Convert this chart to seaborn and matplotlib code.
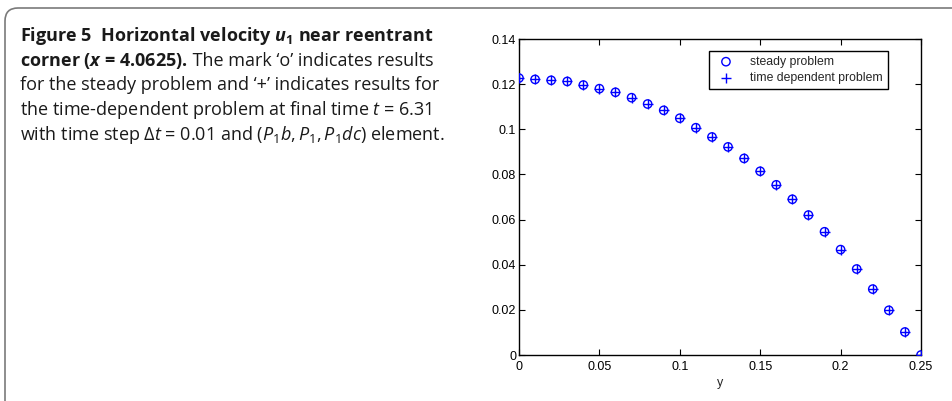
import matplotlib
matplotlib.use("Agg")
import matplotlib.pyplot as plt
from matplotlib.patches import FancyBboxPatch
from matplotlib.transforms import IdentityTransform
from matplotlib.ticker import FuncFormatter
import pandas as pd
import seaborn as sns

# values
y_pos = [0.00, 0.01, 0.02, 0.03, 0.04, 0.05, 0.06, 0.07, 0.08, 0.09,
         0.10, 0.11, 0.12, 0.13, 0.14, 0.15, 0.16, 0.17, 0.18, 0.19,
         0.20, 0.21, 0.22, 0.23, 0.24, 0.25]
u1_steady = [0.1227, 0.1221, 0.1217, 0.1212, 0.1196, 0.1180, 0.1164, 0.1140,
             0.1112, 0.1084, 0.1049, 0.1007, 0.0966, 0.0922, 0.0871, 0.0814,
             0.0754, 0.0690, 0.0620, 0.0546, 0.0467, 0.0381, 0.0292, 0.0198,
             0.0102, 0.0000]
u1_time = [0.1227, 0.1221, 0.1217, 0.1212, 0.1196, 0.1180, 0.1164, 0.1140,
           0.1112, 0.1084, 0.1049, 0.1007, 0.0966, 0.0922, 0.0871, 0.0814,
           0.0754, 0.0690, 0.0620, 0.0546, 0.0467, 0.0381, 0.0292, 0.0198,
           0.0102, 0.0000]
x_ticks = [0, 0.05, 0.1, 0.15, 0.2, 0.25]
y_ticks = [0, 0.02, 0.04, 0.06, 0.08, 0.1, 0.12, 0.14]

sns.set_style("ticks")
plt.rcParams['font.family'] = ['Liberation Sans', 'DejaVu Sans']
plt.rcParams['mathtext.fontset'] = 'custom'
plt.rcParams['mathtext.rm'] = 'Open Sans'
plt.rcParams['mathtext.it'] = 'Open Sans:italic'
plt.rcParams['mathtext.bf'] = 'Open Sans:bold'
plt.rcParams['mathtext.bfit'] = 'Open Sans:bold:italic'

steady = pd.DataFrame({'y': y_pos, 'u1': u1_steady})
timedep = pd.DataFrame({'y': y_pos, 'u1': u1_time})

fig = plt.figure(figsize=(9.53, 4.01), dpi=100)

# rounded frame around figure + caption (pixel coords)
frame = FancyBboxPatch((5, -30), 1000, 401 - 8 + 30,
                       boxstyle="round,pad=0,rounding_size=13",
                       transform=IdentityTransform(), facecolor='none',
                       edgecolor='#7a7a7a', linewidth=1.2, clip_on=False)
fig.patches.append(frame)

# caption
cap = dict(family='Open Sans', fontsize=13, color='#1a1a1a', va='baseline')
x0, line_h = 20 / 953, 24.7 / 401
y0 = 1 - 41 / 401
fig.text(x0, y0, r'Figure 5  Horizontal velocity $\mathbfit{u}_{\mathbf{1}}$ near reentrant',
         fontweight='bold', **cap)
t2 = fig.text(x0, y0 - line_h, r'corner ($\mathbfit{x}$ = 4.0625).', fontweight='bold', **cap)
fig.canvas.draw()
bb = t2.get_window_extent().transformed(fig.transFigure.inverted())
fig.text(bb.x1, y0 - line_h, " The mark \u2018o\u2019 indicates results", **cap)
fig.text(x0, y0 - 2 * line_h, "for the steady problem and \u2018+\u2019 indicates results for", **cap)
fig.text(x0, y0 - 3 * line_h, r"the time-dependent problem at final time $t$ = 6.31", **cap)
fig.text(x0, y0 - 4 * line_h,
         r"with time step $\Delta t$ = 0.01 and ($P_1b, P_1, P_1dc$) element.", **cap)

ax = fig.add_axes([519 / 953, 46 / 401, 402 / 953, 316 / 401])

sns.scatterplot(data=steady, x='y', y='u1', marker='o', s=36, facecolors='none',
                edgecolor='blue', linewidth=1.0, label='steady problem', ax=ax, zorder=3)
sns.scatterplot(data=timedep, x='y', y='u1', marker='+', s=44, color='blue',
                linewidth=1.0, label='time dependent problem', ax=ax, zorder=4)

ax.set_xlim(0, 0.25)
ax.set_ylim(0, 0.14)
ax.set_xticks(x_ticks)
ax.set_yticks(y_ticks)
fmt = FuncFormatter(lambda v, p: '%g' % v)
ax.xaxis.set_major_formatter(fmt)
ax.yaxis.set_major_formatter(fmt)
ax.tick_params(direction='in', length=4, width=0.8, labelsize=9, top=True, right=True,
               color='black', labelcolor='black')
ax.tick_params(axis='x', pad=4)
ax.tick_params(axis='y', pad=2)
for s in ax.spines.values():
    s.set_visible(True)
    s.set_linewidth(1.0)
    s.set_color('black')
ax.set_xlabel('y', fontsize=9, labelpad=3)
ax.set_ylabel('')

leg = ax.legend(loc='upper right', bbox_to_anchor=(0.918, 0.962), fontsize=8.8,
                frameon=True, fancybox=False, framealpha=1, edgecolor='black',
                borderpad=0.4, handlelength=2.0, handletextpad=1.0, labelspacing=0.35,
                borderaxespad=0)
leg.get_frame().set_linewidth(1.0)

fig.savefig("out.png", dpi=100)
